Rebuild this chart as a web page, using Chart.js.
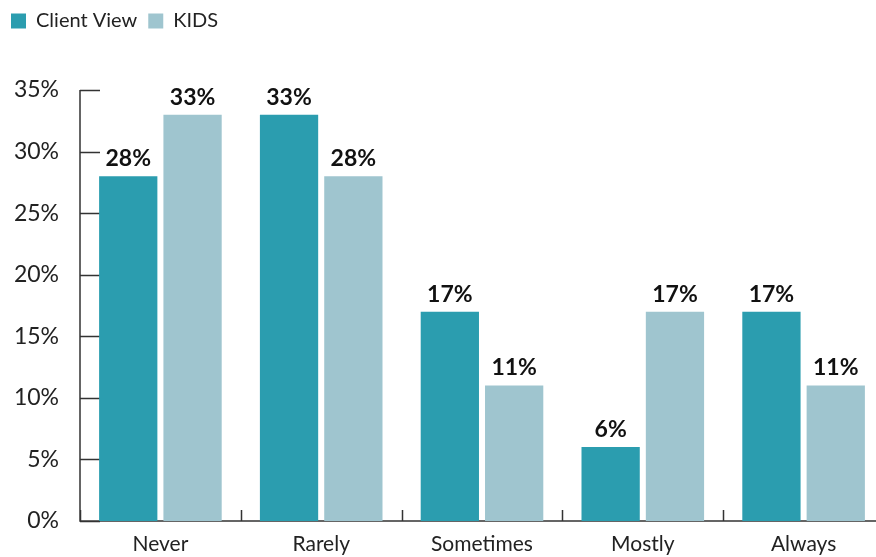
<!DOCTYPE html>
<html>
<head>
<meta charset="utf-8">
<script src="https://cdn.jsdelivr.net/npm/chart.js@4/dist/chart.umd.min.js"></script>
<style>
  html, body { margin: 0; padding: 0; background: #fff; overflow: hidden; }
  #wrap { position: relative; width: 884px; height: 557px; }
</style>
</head>
<body>
<div id="wrap"><canvas id="myChart"></canvas></div>
<script>
var categories = ['Never', 'Rarely', 'Sometimes', 'Mostly', 'Always'];
var clientView = [28, 33, 17, 6, 17];
var kids = [33, 28, 11, 17, 11];
var yTicks = [0, 5, 10, 15, 20, 25, 30, 35];

var teal = '#2b9daf';
var lightBlue = '#9fc5cf';
var fontName = 'Lato, "Open Sans", sans-serif';

// push the plot down below the legend
const legendGap = {
  id: 'legendGap',
  beforeInit(chart) {
    const fit = chart.legend.fit;
    chart.legend.fit = function() {
      fit.bind(chart.legend)();
      this.height += 49;
    };
  }
};

// axis lines + inward ticks like the original
const axisLines = {
  id: 'axisLines',
  beforeDatasetsDraw(chart) {
    const c = chart.ctx;
    const area = chart.chartArea;
    const y = chart.scales.y;
    c.save();
    c.strokeStyle = '#333';
    c.lineWidth = 1.5;
    c.beginPath();
    c.moveTo(area.left, y.getPixelForValue(35));
    c.lineTo(area.left, y.getPixelForValue(0));
    c.lineTo(area.right, y.getPixelForValue(0));
    yTicks.forEach(t => {
      var py = Math.round(y.getPixelForValue(t)) + 0.5;
      c.moveTo(area.left, py);
      c.lineTo(area.left + 20, py);
    });
    for (var i = 0; i <= categories.length; i++) {
      var px = Math.round(area.left + i * (area.right - area.left) / categories.length) + 0.5;
      c.moveTo(px, y.getPixelForValue(0));
      c.lineTo(px, y.getPixelForValue(0) - 11);
    }
    c.stroke();
    c.restore();
  }
};

const valueLabels = {
  id: 'valueLabels',
  afterDatasetsDraw(chart) {
    const c = chart.ctx;
    c.save();
    c.font = 'bold 23px ' + fontName;
    c.fillStyle = '#111';
    c.textAlign = 'center';
    c.textBaseline = 'bottom';
    chart.data.datasets.forEach((ds, i) => {
      chart.getDatasetMeta(i).data.forEach((bar, j) => {
        c.fillText(ds.data[j] + '%', bar.x, bar.y - 6);
      });
    });
    c.restore();
  }
};

const ctx = document.getElementById('myChart');

new Chart(ctx, {
  type: 'bar',
  data: {
    labels: categories,
    datasets: [{
      label: 'Client View',
      data: clientView,
      backgroundColor: teal,
    }, {
      label: 'KIDS',
      data: kids,
      backgroundColor: lightBlue,
    }]
  },
  options: {
    responsive: true,
    maintainAspectRatio: false,
    animation: false,
    layout: { padding: 0 },
    categoryPercentage: 0.8,
    barPercentage: 0.906,
    plugins: {
      tooltip: { enabled: false },
      legend: {
        position: 'top',
        align: 'start',
        labels: {
          boxWidth: 15,
          boxHeight: 15,
          color: '#222',
          font: { family: fontName, size: 20 },
          padding: 11
        }
      }
    },
    scales: {
      x: {
        grid: { display: false },
        border: { display: false },
        ticks: {
          color: '#222',
          font: { family: fontName, size: 21 },
          padding: 3
        },
        afterFit(scale) { scale.height = 36; }
      },
      y: {
        min: 0,
        max: 35,
        grid: { display: false },
        border: { display: false },
        ticks: {
          stepSize: 5,
          color: '#222',
          padding: 13,
          font: { family: fontName, size: 23 },
          callback: v => v + '%'
        },
        afterFit(scale) { scale.width = 80; }
      }
    }
  },
  plugins: [legendGap, axisLines, valueLabels]
});
</script>
</body>
</html>
